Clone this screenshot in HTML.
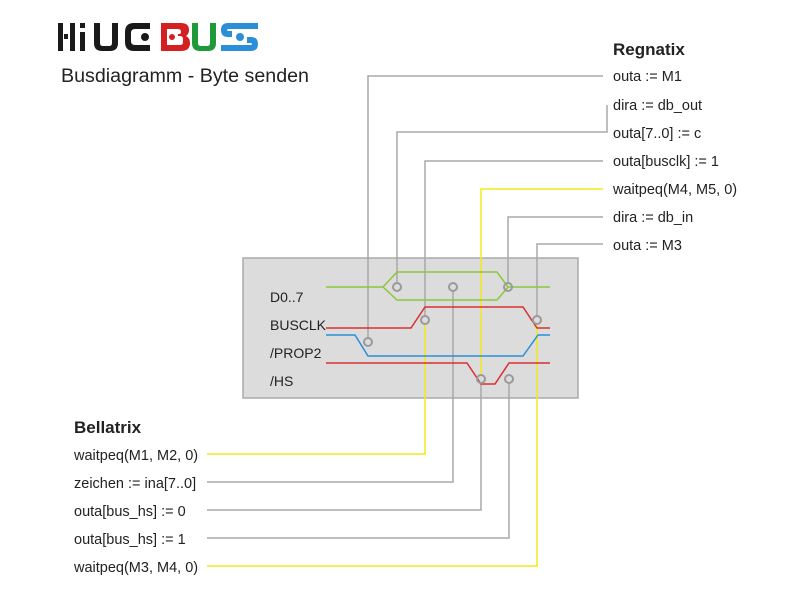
<!DOCTYPE html>
<html><head><meta charset="utf-8"><style>
body{margin:0;background:#fff;}
svg{display:block}
text{font-family:"Liberation Sans",sans-serif;fill:#222;}
</style></head><body>
<svg width="800" height="600" viewBox="0 0 800 600" xmlns="http://www.w3.org/2000/svg">
<g fill="#1a1a1a">
<rect x="58" y="23" width="5" height="28"/>
<rect x="64" y="34" width="4" height="5"/>
<rect x="70" y="23" width="5" height="28"/>
<rect x="80" y="23" width="5" height="5"/>
<rect x="80" y="32" width="5" height="19"/>
<path d="M94 23h6v20q0 3 3 3h6q3 0 3-3V23h6v20q0 8-8 8h-8q-8 0-8-8z"/>
<path d="M150 23h-16q-9 0-9 9v10q0 9 9 9h16v-6h-15q-4 0-4-4v-8q0-4 4-4h15z"/>
<circle cx="145" cy="37" r="4"/>
</g>
<path fill="#d42020" d="M161 23h20q8 0 8 7q0 4-3 6q4 2 4 7q0 8-9 8h-20z M167 29v16h13q3 0 3-3v-3q0-3-3-3h-2v-2h1q2 0 2-2q0-3-3-3z"/>
<circle cx="172" cy="37" r="3" fill="#d42020"/>
<path fill="#1e9a3a" d="M192 23h6v20q0 3 3 3h6q3 0 3-3V23h6v20q0 8-8 8h-8q-8 0-8-8z"/>
<path fill="#2a8fd8" d="M258 23h-30q-7 0-7 7q0 7 7 7h4v-6h-3q-2 0-2-1q0-1 2-1h29z M221 51h30q7 0 7-7q0-7-7-7h-4v6h3q2 0 2 1q0 1-2 1h-29z"/>
<circle cx="240" cy="37" r="4" fill="#2a8fd8"/>
<text x="61" y="82" font-size="19" textLength="248" lengthAdjust="spacingAndGlyphs">Busdiagramm - Byte senden</text>

<text x="613" y="55" font-size="17" font-weight="bold">Regnatix</text>
<g font-size="14.5">
<text x="613" y="81">outa := M1</text>
<text x="613" y="110">dira := db_out</text>
<text x="613" y="138">outa[7..0] := c</text>
<text x="613" y="166">outa[busclk] := 1</text>
<text x="613" y="194">waitpeq(M4, M5, 0)</text>
<text x="613" y="222">dira := db_in</text>
<text x="613" y="250">outa := M3</text>
</g>
<text x="74" y="433" font-size="17" font-weight="bold">Bellatrix</text>
<g font-size="14.5">
<text x="74" y="460">waitpeq(M1, M2, 0)</text>
<text x="74" y="488">zeichen := ina[7..0]</text>
<text x="74" y="516">outa[bus_hs] := 0</text>
<text x="74" y="544">outa[bus_hs] := 1</text>
<text x="74" y="572">waitpeq(M3, M4, 0)</text>
</g>

<rect x="243" y="258" width="335" height="140" fill="#dcdcdc" stroke="#aaa" stroke-width="1.5"/>
<g font-size="14">
<text x="270" y="302">D0..7</text>
<text x="270" y="330">BUSCLK</text>
<text x="270" y="358">/PROP2</text>
<text x="270" y="386">/HS</text>
</g>

<g fill="none" stroke-width="1.5">
<g stroke="#a8a8a8">
<path d="M603 76H368V338"/>
<path d="M607 105V132H397V283"/>
<path d="M603 161H425V316"/>
<path d="M603 217H508V283"/>
<path d="M603 244H537V316"/>
<path d="M453 291V482H207"/>
<path d="M481 383V510H207"/>
<path d="M509 383V538H207"/>
</g>
<g stroke="#f2ea1a">
<path d="M603 189H481V375"/>
<path d="M425 324V454H207"/>
<path d="M537 324V566H207"/>
</g>
<path stroke="#8cc63f" d="M326 287H383L397 272H497L508 287H550M383 287L397 300H497L508 287"/>
<path stroke="#d93030" d="M326 328H411L425 307H523L537 328H550"/>
<path stroke="#2a8fd8" d="M326 335H355L368 356H523L538 335H550"/>
<path stroke="#d93030" d="M326 363H467L481 384H495L509 363H550"/>
<g stroke="#9a9a9a" stroke-width="2">
<circle cx="397" cy="287" r="4"/>
<circle cx="453" cy="287" r="4"/>
<circle cx="508" cy="287" r="4"/>
<circle cx="425" cy="320" r="4"/>
<circle cx="537" cy="320" r="4"/>
<circle cx="368" cy="342" r="4"/>
<circle cx="481" cy="379" r="4"/>
<circle cx="509" cy="379" r="4"/>
</g>
</g>
</svg>
</body></html>
